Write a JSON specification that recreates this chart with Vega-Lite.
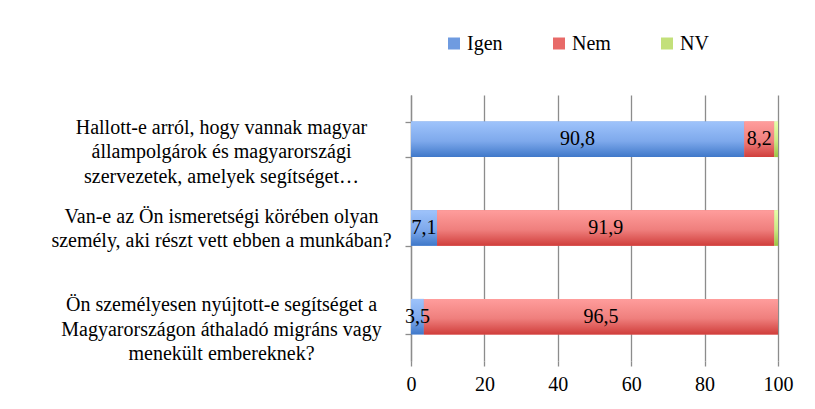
{
  "$schema": "https://vega.github.io/schema/vega-lite/v6.json",
  "width": 367,
  "height": 266,
  "autosize": {"type": "none"},
  "padding": {"left": 411, "top": 95, "right": 37, "bottom": 48},
  "background": "white",
  "config": {
    "view": {"stroke": null},
    "axisY": {"labelFont": "Liberation Serif", "labelColor": "black", "labelFontSize": 20},
    "axisX": {"labelFont": "Liberation Serif", "labelColor": "black", "labelFontSize": 20},
    "legend": {"labelFont": "Liberation Serif", "labelColor": "black", "labelFontSize": 20}
  },
  "data": {
    "values": [
      {"q": "Hallott-e arról, hogy vannak magyar\nállampolgárok és magyarországi\nszervezetek, amelyek segítséget…", "answer": "Igen", "ord": 1, "value": 90.8},
      {"q": "Hallott-e arról, hogy vannak magyar\nállampolgárok és magyarországi\nszervezetek, amelyek segítséget…", "answer": "Nem", "ord": 2, "value": 8.2},
      {"q": "Hallott-e arról, hogy vannak magyar\nállampolgárok és magyarországi\nszervezetek, amelyek segítséget…", "answer": "NV", "ord": 3, "value": 1.0},
      {"q": "Van-e az Ön ismeretségi körében olyan\nszemély, aki részt vett ebben a munkában?", "answer": "Igen", "ord": 1, "value": 7.1},
      {"q": "Van-e az Ön ismeretségi körében olyan\nszemély, aki részt vett ebben a munkában?", "answer": "Nem", "ord": 2, "value": 91.9},
      {"q": "Van-e az Ön ismeretségi körében olyan\nszemély, aki részt vett ebben a munkában?", "answer": "NV", "ord": 3, "value": 1.0},
      {"q": "Ön személyesen nyújtott-e segítséget a\nMagyarországon áthaladó migráns vagy\nmenekült embereknek?", "answer": "Igen", "ord": 1, "value": 3.5},
      {"q": "Ön személyesen nyújtott-e segítséget a\nMagyarországon áthaladó migráns vagy\nmenekült embereknek?", "answer": "Nem", "ord": 2, "value": 96.5},
      {"q": "Ön személyesen nyújtott-e segítséget a\nMagyarországon áthaladó migráns vagy\nmenekült embereknek?", "answer": "NV", "ord": 3, "value": 0}
    ]
  },
  "transform": [
    {"stack": "value", "groupby": ["q"], "sort": [{"field": "ord", "order": "ascending"}], "as": ["x0", "x1"]},
    {"calculate": "(datum.x0 + datum.x1) / 2", "as": "mid"},
    {"calculate": "replace(format(datum.value, '.1f'), '.', ',')", "as": "label"}
  ],
  "encoding": {
    "y": {
      "field": "q",
      "type": "nominal",
      "sort": null,
      "scale": {"paddingInner": 0.6, "paddingOuter": 0.3},
      "axis": {
        "title": null,
        "labelExpr": "split(datum.label, '\\n')",
        "labelFont": "Liberation Serif",
        "labelFontSize": 20,
        "labelColor": "black",
        "labelLimit": 0,
        "labelAlign": "center",
        "labelBaseline": "line-bottom",
        "labelLineHeight": 24.5,
        "labelPadding": 184,
        "tickBand": "extent",
        "tickSize": 6,
        "tickColor": "#8c8c8c",
        "tickWidth": 1.3,
        "domainColor": "#8c8c8c",
        "domainWidth": 1.3,
        "grid": false
      }
    },
    "x": {
      "field": "x0",
      "type": "quantitative",
      "scale": {"domain": [0, 100], "nice": false},
      "axis": {
        "title": null,
        "values": [0, 20, 40, 60, 80, 100],
        "labelFont": "Liberation Serif",
        "labelFontSize": 20,
        "labelColor": "black",
        "grid": true,
        "gridColor": "#8c8c8c",
        "gridWidth": 1.3,
        "domain": false,
        "ticks": true,
        "tickSize": 5,
        "tickColor": "#8c8c8c",
        "tickWidth": 1.3,
        "labelPadding": 8,
        "labelFlush": false
      }
    },
    "x2": {"field": "x1"}
  },
  "layer": [
    {
      "mark": {"type": "bar"},
      "encoding": {
        "color": {
          "field": "answer",
          "type": "nominal",
          "sort": ["Igen", "Nem", "NV"],
          "scale": {"domain": ["Igen", "Nem", "NV"], "range": ["#6f9be0", "#e86a68", "#c3e07a"]},
          "legend": {
            "title": null,
            "orient": "none",
            "direction": "horizontal",
            "legendX": 33,
            "legendY": -61.5,
            "symbolType": "square",
            "symbolSize": 144,
            "symbolStrokeWidth": 0,
            "labelFont": "Liberation Serif",
            "labelFontSize": 20,
            "labelColor": "black",
            "labelOffset": 3,
            "columnPadding": 46,
            "padding": 0,
            "encode": {
              "symbols": {
                "update": {
                  "fill": {"signal": "datum.value === 'Igen' ? {gradient: 'linear', x1: 0, y1: 0, x2: 0, y2: 1, stops: [{offset: 0, color: '#9ec3fb'}, {offset: 1, color: '#3f78c9'}]} : (datum.value === 'Nem' ? {gradient: 'linear', x1: 0, y1: 0, x2: 0, y2: 1, stops: [{offset: 0, color: '#ff9d9c'}, {offset: 1, color: '#d03e3b'}]} : {gradient: 'linear', x1: 0, y1: 0, x2: 0, y2: 1, stops: [{offset: 0, color: '#e6ffaa'}, {offset: 1, color: '#9bc444'}]})"}
                }
              }
            }
          }
        }
      }
    },
    {
      "mark": {"type": "bar"},
      "encoding": {
        "fill": {
          "condition": [
            {"test": "datum.answer === 'Igen'", "value": {"gradient": "linear", "x1": 0, "y1": 0, "x2": 0, "y2": 1, "stops": [{"offset": 0, "color": "#9ec3fb"}, {"offset": 0.55, "color": "#7ea9ec"}, {"offset": 1, "color": "#3f78c9"}]}},
            {"test": "datum.answer === 'Nem'", "value": {"gradient": "linear", "x1": 0, "y1": 0, "x2": 0, "y2": 1, "stops": [{"offset": 0, "color": "#ff9d9c"}, {"offset": 0.55, "color": "#ef7f7d"}, {"offset": 1, "color": "#d03e3b"}]}}
          ],
          "value": {"gradient": "linear", "x1": 0, "y1": 0, "x2": 0, "y2": 1, "stops": [{"offset": 0, "color": "#e6ffaa"}, {"offset": 0.55, "color": "#cbea84"}, {"offset": 1, "color": "#9bc444"}]}
        }
      }
    },
    {
      "transform": [{"filter": "datum.value >= 3"}],
      "mark": {"type": "text", "font": "Liberation Serif", "fontSize": 20, "color": "black", "align": "center", "baseline": "middle"},
      "encoding": {
        "x": {"field": "mid", "type": "quantitative"},
        "x2": null,
        "text": {"field": "label"}
      }
    }
  ]
}
